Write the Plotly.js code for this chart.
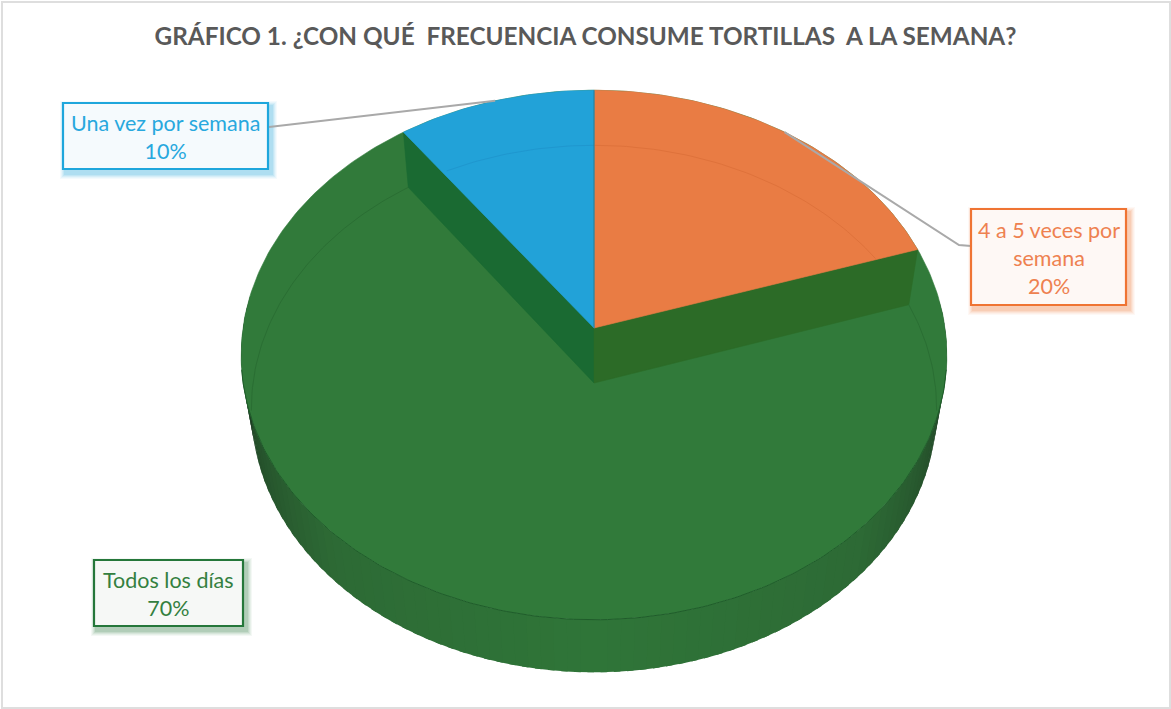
<!DOCTYPE html>
<html lang="es">
<head>
<meta charset="utf-8">
<title>Frecuencia de consumo de tortillas</title>
<script src="https://cdn.plot.ly/plotly-3.0.1.min.js"></script>
<style>html,body{margin:0;padding:0;background:#fff}#chart{width:1171px;height:709px}</style>
</head>
<body>
<div id="chart"></div>
<script>
// Survey results, in pie order starting at twelve o'clock and running clockwise
const categories = ['4 a 5 veces por<br>semana', 'Todos los días', 'Una vez por semana'];
const values = [20, 70, 10];
const titleText = 'GRÁFICO 1. ¿CON QUÉ &nbsp;FRECUENCIA CONSUME TORTILLAS &nbsp;A LA SEMANA?';

// Slice colours and the shades of the cut faces of the large slice
const sliceColors = ['#e97c44', '#317a3a', '#22a2d8'];
const labelBorders = ['#ef7433', '#25773a', '#1ea6dc'];
const labelFills = ['#fef8f5', '#f6f8f6', '#f5fafd'];
const labelInk = ['#ee8150', '#34803f', '#28a8de'];
const faceAfterFirst = '#2c6b27';
const faceBeforeLast = '#1a6a32';

// Perspective projection of the disc: top plane and bottom plane
const TOP = {x0: 594, y0: 328, a: 351, h: 262, k: 0.102};
const BASE = {x0: 594, y0: 383, a: 341, h: 261, k: 0.098};

function project(plane, deg) {
  const t = deg * Math.PI / 180, u = Math.sin(t), v = Math.cos(t), w = 1 + plane.k * v;
  return [plane.x0 + plane.a * u / w, plane.y0 - plane.h * v / w];
}
function arc(plane, from, to, step = 1) {
  const pts = [];
  for (let d = from; d < to; d += step) pts.push(project(plane, d));
  pts.push(project(plane, to));
  return pts;
}
const apex = plane => [plane.x0, plane.y0];

// Cumulative slice boundaries in degrees
const total = values.reduce((s, v) => s + v, 0);
const bounds = [0];
values.forEach(v => bounds.push(bounds[bounds.length - 1] + v / total * 360));

const traces = [];
function poly(pts, fill, lineColor, lineWidth) {
  traces.push({
    type: 'scatter', mode: 'lines', fill: 'toself', fillcolor: fill,
    x: pts.map(p => p[0]), y: pts.map(p => p[1]),
    line: {color: lineColor || fill, width: lineWidth === undefined ? 0.6 : lineWidth},
    hoverinfo: 'skip', showlegend: false
  });
}
function stroke(pts, color, width) {
  traces.push({
    type: 'scatter', mode: 'lines',
    x: pts.map(p => p[0]), y: pts.map(p => p[1]),
    line: {color, width}, hoverinfo: 'skip', showlegend: false
  });
}

// Shade of the outer wall: mid green at the front, darkening toward both sides
const wallStops = [[0, [47, 117, 56]], [0.5, [45, 106, 53]], [0.8, [37, 80, 43]], [1, [28, 50, 33]]];
function wallShade(deg) {
  const t = Math.min(1, Math.abs(deg - 180) / 88);
  for (let i = 1; i < wallStops.length; i++) {
    if (t <= wallStops[i][0]) {
      const [t0, c0] = wallStops[i - 1], [t1, c1] = wallStops[i], f = (t - t0) / (t1 - t0);
      return 'rgb(' + c0.map((c, j) => Math.round(c + (c1[j] - c) * f)).join(',') + ')';
    }
  }
  return 'rgb(28,50,33)';
}

// Outer wall, built as narrow overlapping bands around the front of the disc
for (let d = 84; d < 276; d += 2) {
  const a = project(TOP, d), b = project(TOP, d + 3), c = project(BASE, d + 3), e = project(BASE, d);
  poly([a, b, c, e, a], wallShade(d + 1.5), null, 0);
}

// Top plane in the colour of the large slice
poly(arc(TOP, 0, 360), sliceColors[1]);

// Cut faces seen between the two planes
const cutA = bounds[1], cutB = bounds[2];
poly([apex(TOP), project(TOP, cutB), project(BASE, cutB), apex(BASE), apex(TOP)], faceBeforeLast);
poly([apex(TOP), project(TOP, cutA), project(BASE, cutA), apex(BASE), apex(TOP)], faceAfterFirst);

// Bottom plane outline behind the large slice, and the front rim of the top plane
stroke(arc(BASE, cutA, 96), '#2a6e33', 1);
stroke(arc(BASE, 264, cutB), '#2a6e33', 1);
stroke(arc(TOP, 99, 261), '#1f5c2a', 1);

// The two small slices
poly([apex(TOP)].concat(arc(TOP, bounds[0], cutA)).concat([apex(TOP)]), sliceColors[0]);
poly([apex(TOP)].concat(arc(TOP, cutB, bounds[3])).concat([apex(TOP)]), sliceColors[2]);

// Bottom plane outline showing faintly through the small slices
function inWedge(p, corner, sign) {
  const [ax, ay] = apex(TOP);
  return sign * ((corner[0] - ax) * (p[1] - ay) - (corner[1] - ay) * (p[0] - ax)) < 0;
}
stroke(arc(BASE, bounds[0], cutA).filter(p => inWedge(p, project(TOP, cutA), 1)), '#df723b', 1);
stroke(arc(BASE, cutB, bounds[3]).filter(p => inWedge(p, project(TOP, cutB), -1)), '#1f97cf', 1);
stroke([apex(TOP), project(TOP, 0)], '#2d7d92', 1);

// Leader lines run from the middle of each small slice's outer edge to its label
const mid = i => (bounds[i] + bounds[i + 1]) / 2;
const leaderA = project(TOP, mid(0)), leaderC = project(TOP, mid(2));
stroke([leaderA, [959, 245], [971, 246]], '#a9a9a9', 2);
stroke([leaderC, [269, 127]], '#a9a9a9', 2);

// Label boxes: left, right, top, bottom in pixels
const labelBoxes = [[971, 1126, 209, 305], [94, 243, 560, 626], [63, 268, 103, 169]];
const shapes = [], annotations = [];

labelBoxes.forEach((b, i) => {
  // Soft shadow below and to the right of each box
  [[6, 0.05], [5, 0.06], [4, 0.08], [3, 0.1], [2, 0.12]].forEach(([g, op]) => {
    shapes.push({
      type: 'rect', xref: 'x', yref: 'y', layer: 'below',
      x0: b[0] + 3 - g, x1: b[1] + 3 + g, y0: b[2] + 4 - g, y1: b[3] + 4 + g,
      fillcolor: labelBorders[i], opacity: op, line: {width: 0}
    });
  });
  shapes.push({
    type: 'rect', xref: 'x', yref: 'y', layer: 'above',
    x0: b[0], x1: b[1], y0: b[2], y1: b[3],
    fillcolor: labelFills[i], line: {color: labelBorders[i], width: 2.2}
  });
  annotations.push({
    xref: 'x', yref: 'y', x: (b[0] + b[1]) / 2, y: (b[2] + b[3]) / 2 + 1,
    text: categories[i] + '<br>' + Math.round(values[i] / total * 100) + '%',
    showarrow: false, align: 'center', xanchor: 'center', yanchor: 'middle',
    font: {family: 'Lato, "Noto Sans", sans-serif', size: 21.5, color: labelInk[i]}
  });
});

// Thin frame around the whole chart area
shapes.push({
  type: 'rect', xref: 'x', yref: 'y', layer: 'below',
  x0: 2, x1: 1170, y0: 2, y1: 708,
  fillcolor: 'rgba(0,0,0,0)', line: {color: '#dedede', width: 2}
});

const layout = {
  width: 1171, height: 709, autosize: false,
  margin: {l: 0, r: 0, t: 0, b: 0},
  paper_bgcolor: '#ffffff', plot_bgcolor: '#ffffff',
  showlegend: false, hovermode: false,
  title: {
    text: titleText, x: 0.5, xanchor: 'center', y: 0.948, yanchor: 'middle',
    font: {family: 'Lato, "Noto Sans", sans-serif', size: 24.3, color: '#595959', weight: 700}
  },
  xaxis: {range: [0, 1171], visible: false, fixedrange: true},
  yaxis: {range: [709, 0], visible: false, fixedrange: true},
  shapes, annotations
};

Plotly.newPlot('chart', traces, layout, {displayModeBar: false, staticPlot: true});
</script>
</body>
</html>
